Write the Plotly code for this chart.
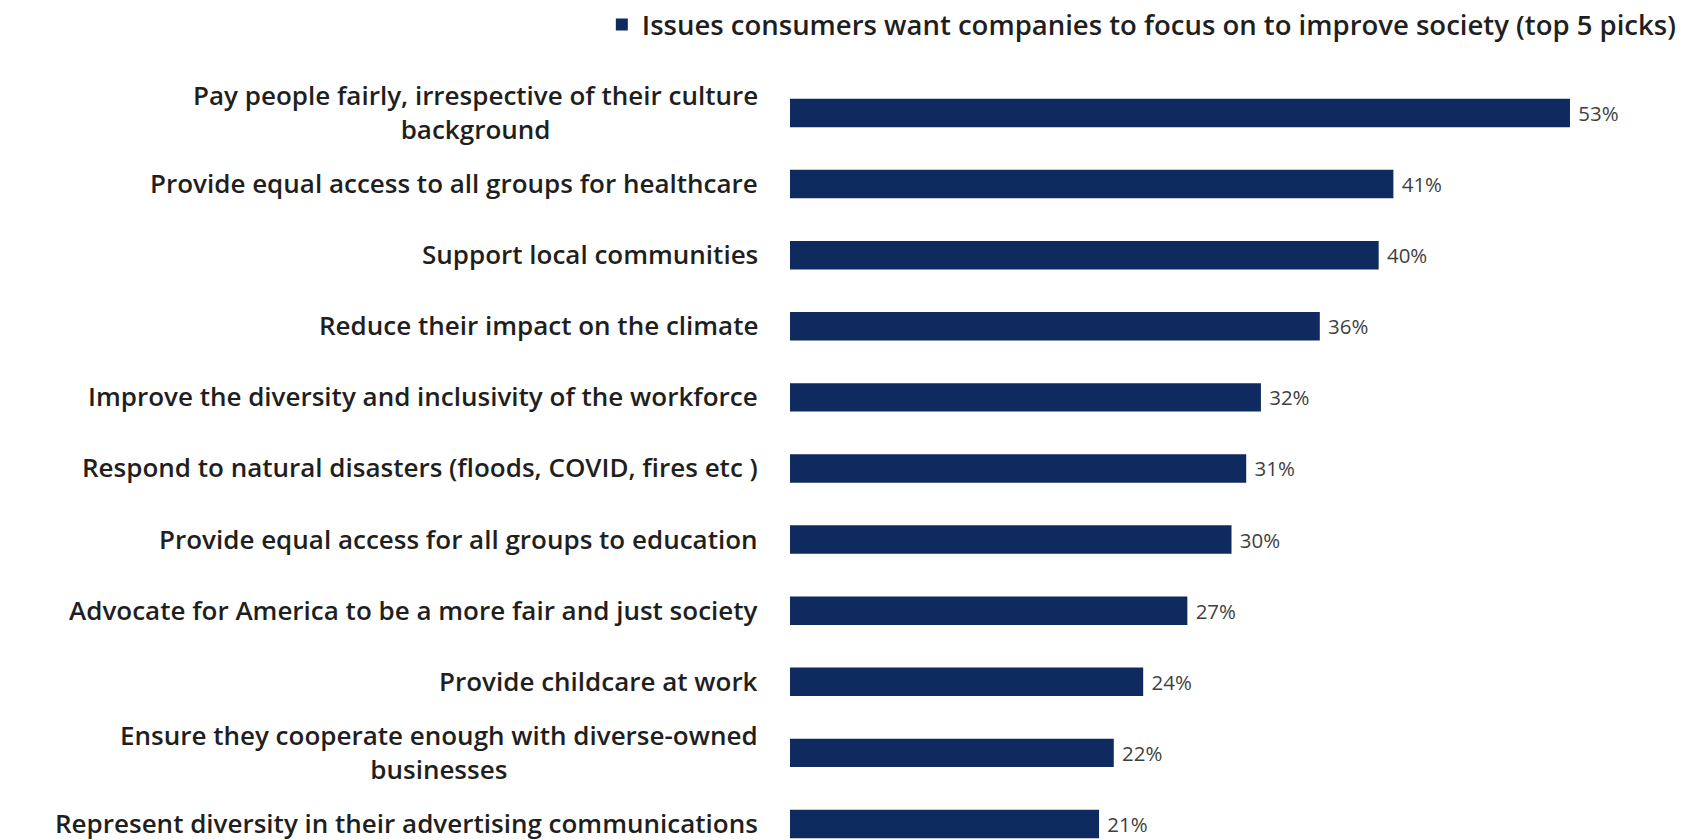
import plotly.graph_objects as go

categories = [
    "Pay people fairly, irrespective of their culture<br>background",
    "Provide equal access to all groups for healthcare",
    "Support local communities",
    "Reduce their impact on the climate",
    "Improve the diversity and inclusivity of the workforce",
    "Respond to natural disasters (floods, COVID, fires etc )",
    "Provide equal access for all groups to education",
    "Advocate for America to be a more fair and just society",
    "Provide childcare at work",
    "Ensure they cooperate enough with diverse-owned<br>businesses",
    "Represent diversity in their advertising communications",
]
values = [53, 41, 40, 36, 32, 31, 30, 27, 24, 22, 21]
series_name = "Issues consumers want companies to focus on to improve society (top 5 picks)"

NAVY = "#0f2a5f"
TEXT = "#1f1f1f"
FONT = "Open Sans"

fig = go.Figure(
    go.Bar(
        x=values,
        y=list(range(len(categories))),
        orientation="h",
        name=series_name,
        marker=dict(color=NAVY, line=dict(width=0)),
        width=0.4,
        text=[f"\u00a0{v}%" for v in values],
        textposition="outside",
        cliponaxis=False,
        textfont=dict(family=FONT, size=23, color="#3f3f3f", weight=500),
        showlegend=True,
    )
)

# Category labels, right-aligned to the axis with centred wrapped lines
for i, cat in enumerate(categories):
    fig.add_annotation(
        x=0, y=i, xref="x", yref="y",
        text=cat, showarrow=False,
        xanchor="right", yanchor="middle", align="center",
        xshift=-30, yshift=1,
        font=dict(family=FONT, size=26, color=TEXT, weight=600),
    )

fig.update_layout(
    width=1706, height=840,
    margin=dict(l=790, r=33, t=60, b=0),
    paper_bgcolor="white", plot_bgcolor="white",
    xaxis=dict(range=[0, 60], visible=False, fixedrange=True),
    yaxis=dict(range=[10.225, -0.745], visible=False, fixedrange=True),
    legend=dict(
        orientation="h", x=1.01, xanchor="right", y=1.046, yanchor="middle",
        font=dict(family=FONT, size=27.5, color=TEXT, weight=600),
        itemwidth=30, tracegroupgap=0,
    ),
    bargap=0.6,
)

fig.write_html("out.html")
